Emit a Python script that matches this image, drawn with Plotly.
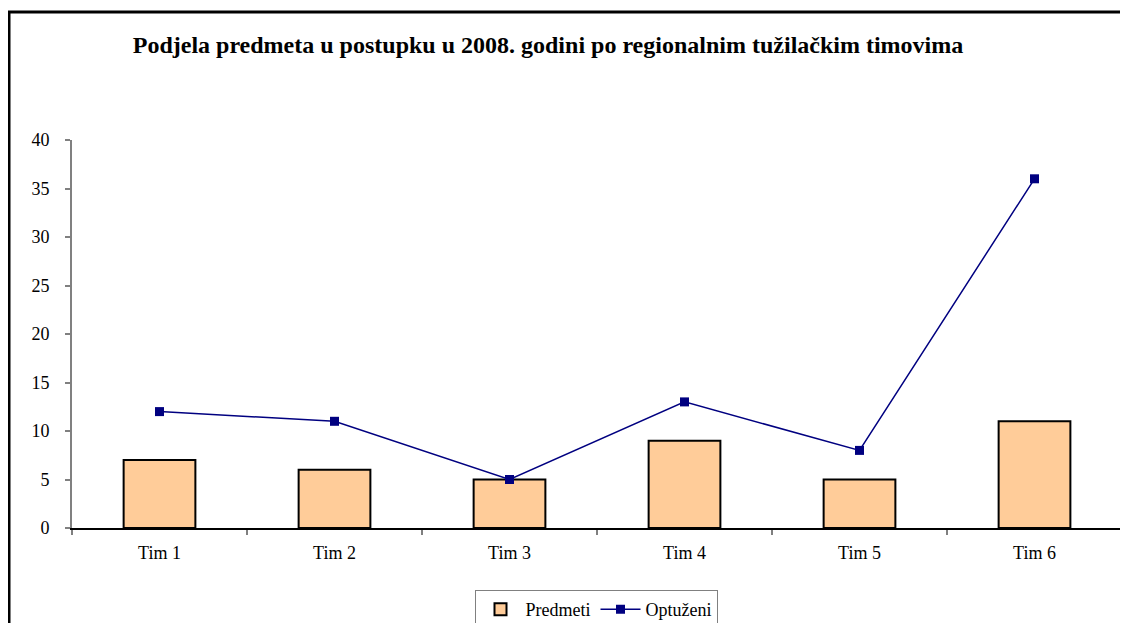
import plotly.graph_objects as go

categories = ["Tim 1", "Tim 2", "Tim 3", "Tim 4", "Tim 5", "Tim 6"]
predmeti = [7, 6, 5, 9, 5, 11]
optuzeni = [12, 11, 5, 13, 8, 36]
y_ticks = [0, 5, 10, 15, 20, 25, 30, 35, 40]

FONT = "Liberation Serif, Times New Roman, serif"

fig = go.Figure()
fig.add_trace(go.Bar(
    x=categories, y=predmeti, name="Predmeti",
    marker=dict(color="#FFCC99", line=dict(color="black", width=2)),
))
fig.add_trace(go.Scatter(
    x=categories, y=optuzeni, name="Optuženi", mode="lines+markers",
    line=dict(color="#000080", width=1.5),
    marker=dict(symbol="square", size=9, color="#000080"),
))

# page body has an 8px offset; work in screen coordinates minus OFF
OFF = 8
W, H = 1128, 623
PL, PR, PT, PB = 72, 1122, 140, 528  # plot area in screen px
L = PL - OFF
R = W - (PR - OFF)
T = PT - OFF
B = H - (PB - OFF)
pw = PR - PL
ph = PB - PT

def px_x(p):
    return (p - PL) / pw

def px_y(p):
    return (PB - p) / ph

fig.update_layout(
    width=W, height=H,
    margin=dict(l=L, r=R, t=T, b=B, autoexpand=False),
    paper_bgcolor="white", plot_bgcolor="white",
    font=dict(family=FONT, size=18, color="black"),
    title=dict(
        text="<b>Podjela predmeta u postupku u 2008. godini po regionalnim tužilačkim timovima</b>",
        font=dict(family=FONT, size=24, color="black"),
        x=(548 - OFF) / W, xanchor="center", y=1 - (45 - OFF) / H, yanchor="middle",
    ),
    bargap=0.59,
    showlegend=True,
    legend=dict(
        orientation="h", xref="container", yref="container",
        x=(596 - OFF) / W, xanchor="center", y=1 - (590 - OFF) / H, yanchor="top",
        bordercolor="#808080", borderwidth=1, bgcolor="white",
        font=dict(family=FONT, size=18, color="black"),
        traceorder="normal", itemwidth=40,
    ),
    xaxis=dict(
        showline=True, linecolor="black", linewidth=1.5,
        ticks="outside", tickson="boundaries", ticklen=5, tickcolor="#808080",
        tickwidth=1.5, ticklabelstandoff=8, automargin=False,
        showgrid=False, zeroline=False,
    ),
    yaxis=dict(
        range=[0, 40], tickvals=y_ticks,
        showline=True, linecolor="#808080", linewidth=2,
        ticks="outside", ticklen=5, tickcolor="#808080", tickwidth=1.5,
        ticklabelstandoff=12, automargin=False,
        showgrid=False, zeroline=False,
    ),
    shapes=[dict(
        type="rect", xref="paper", yref="paper",
        x0=px_x(9), x1=px_x(1140), y0=px_y(640), y1=px_y(12),
        line=dict(color="black", width=3), fillcolor="rgba(0,0,0,0)",
        layer="below",
    )],
)

fig.write_html("out.html")
